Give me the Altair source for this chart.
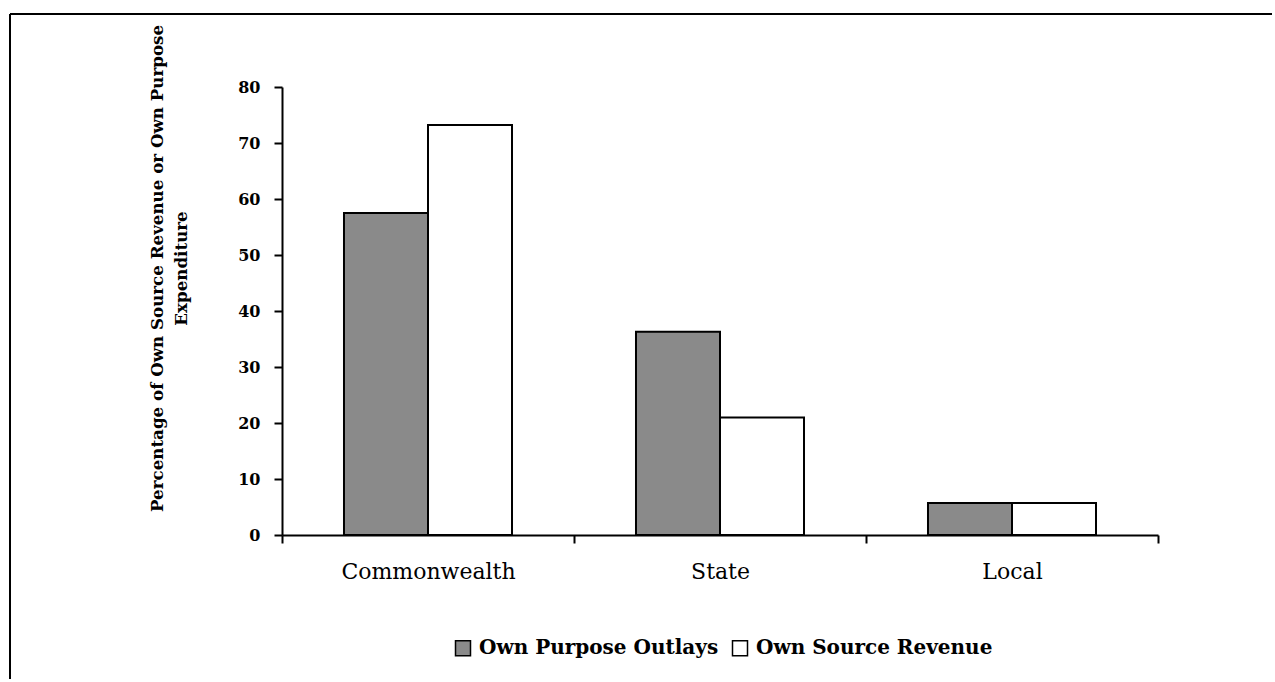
import altair as alt
import pandas as pd

categories = ["Commonwealth", "State", "Local"]
series = ["Own Purpose Outlays", "Own Source Revenue"]
outlays = [57.5, 36.3, 5.7]
revenue = [73.2, 21.0, 5.7]
y_ticks = [0, 10, 20, 30, 40, 50, 60, 70, 80]

rows = []
for c, o, r in zip(categories, outlays, revenue):
    rows.append({"Level": c, "Series": series[0], "Value": o})
    rows.append({"Level": c, "Series": series[1], "Value": r})
df = pd.DataFrame(rows)

W, H = 876, 448
FONT = "DejaVu Serif"

bars = alt.Chart(df).mark_bar(stroke="black", strokeWidth=2).encode(
    x=alt.X("Level:N", sort=categories,
            scale=alt.Scale(paddingInner=0, paddingOuter=0),
            axis=alt.Axis(title=None, labelAngle=0, labelFont=FONT, labelFontSize=22,
                          labelColor="black", labelPadding=18, tickBand="extent",
                          tickSize=8, tickColor="black", tickWidth=2,
                          domainColor="black", domainWidth=2)),
    xOffset=alt.XOffset("Series:N", sort=series,
                        scale=alt.Scale(paddingInner=0, paddingOuter=0.738)),
    y=alt.Y("Value:Q", scale=alt.Scale(domain=[0, 80], nice=False),
            axis=alt.Axis(values=y_ticks, grid=False,
                          title=["Percentage of Own Source Revenue or Own Purpose", "Expenditure"],
                          titleFont=FONT, titleFontSize=16.7, titleFontWeight="bold",
                          titleColor="black", titleAngle=270, titleBaseline="top",
                          titleAlign="center", titleX=-133, titleY=181, titleLineHeight=24,
                          labelFont=FONT, labelFontSize=16, labelFontWeight="bold",
                          labelColor="black", labelPadding=14,
                          tickSize=8, tickColor="black", tickWidth=2,
                          domainColor="black", domainWidth=2)),
    fill=alt.Fill("Series:N", sort=series,
                  scale=alt.Scale(domain=series, range=["#8a8a8a", "#ffffff"]),
                  legend=alt.Legend(title=None, orient="none", direction="horizontal",
                                    legendX=171, legendY=551,
                                    symbolType="square", symbolSize=225,
                                    symbolStrokeColor="black", symbolStrokeWidth=1.5,
                                    labelFont=FONT, labelFontSize=20, labelFontWeight="bold",
                                    labelColor="black", labelOffset=6, columnPadding=10,
                                    labelLimit=0)),
)

border_v = alt.Chart(df).mark_rule(color="black", strokeWidth=2).encode(
    x=alt.value(-272), y=alt.value(-73), y2=alt.value(592)
)
border_h = alt.Chart(df).mark_rule(color="black", strokeWidth=2).encode(
    x=alt.value(-272), x2=alt.value(990), y=alt.value(-73)
)

chart = alt.layer(border_v, border_h, bars).properties(
    width=W, height=H,
    padding={"left": 9, "top": 13, "right": 0, "bottom": 0},
    background="white",
).configure_view(stroke=None)

chart.save("out.html", embed_options={"renderer": "svg", "actions": False})
